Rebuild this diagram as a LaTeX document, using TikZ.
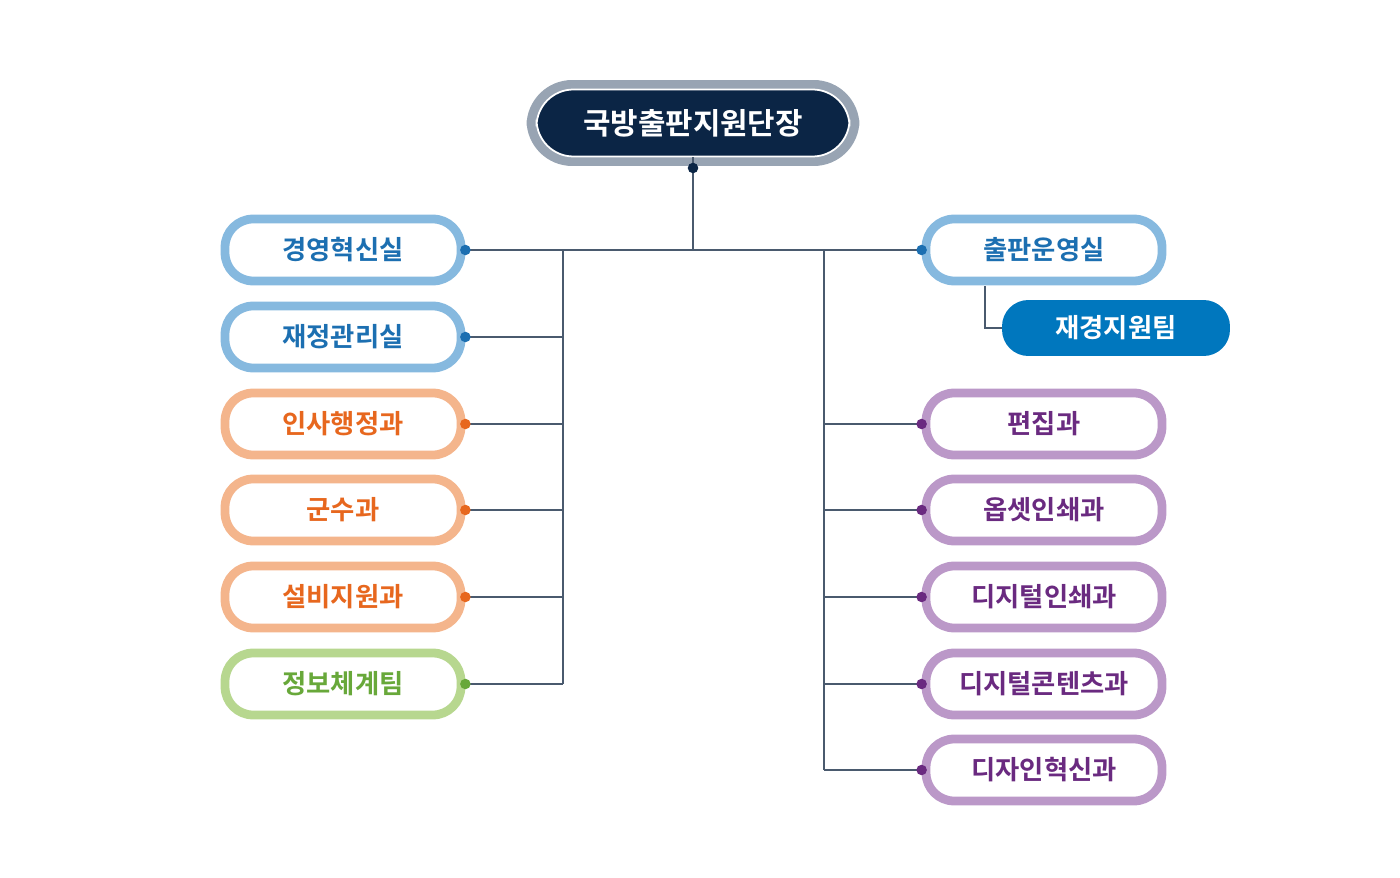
\documentclass[tikz,border=0pt]{standalone}
\usepackage{fontspec}
\newfontfamily\kr{Noto Sans CJK KR}[BoldFont={Noto Sans CJK KR Bold}]
\usetikzlibrary{positioning}
\definecolor{navy}{HTML}{0B2545}
\definecolor{hgray}{HTML}{98A4B3}
\definecolor{bline}{HTML}{86B9DF}\definecolor{btext}{HTML}{1C6FB1}
\definecolor{oline}{HTML}{F4B58C}\definecolor{otext}{HTML}{E7671E}
\definecolor{gline}{HTML}{B7D78F}\definecolor{gtext}{HTML}{68A83A}
\definecolor{pline}{HTML}{BB98C8}\definecolor{ptext}{HTML}{6A2A80}
\definecolor{tfill}{HTML}{0077BE}
\definecolor{lnk}{HTML}{4A5A6E}
\tikzset{
  unit/.style={draw=#1line,text=#1text,line width=5pt,fill=white,rounded corners=16pt,
               minimum width=4.72cm,minimum height=1.24cm,font=\kr\bfseries\fontsize{15}{15}\selectfont},
  team/.style={fill=tfill,text=white,rounded corners=15pt,minimum width=4.56cm,minimum height=1.12cm,
               font=\kr\bfseries\fontsize{15}{15}\selectfont},
  dot/.style={circle,fill=#1,inner sep=0pt,minimum size=6pt},
  link/.style={draw=lnk,line width=0.6pt}
}
\begin{document}
\begin{tikzpicture}[x=0.02cm,y=-0.02cm]
\useasboundingbox (0,0) rectangle (1400,878);
% head
\node[fill=hgray,rounded corners=26pt,minimum width=6.66cm,minimum height=1.72cm] (headbg) at (693,123) {};
\node[fill=navy,draw=white,line width=1pt,rounded corners=21pt,minimum width=6.26cm,minimum height=1.34cm,
      text=white,font=\kr\bfseries\fontsize{17}{17}\selectfont] (head) at (693,123) {국방출판지원단장};
\coordinate (hub) at (693,250);
\coordinate (lt) at (563,250);
\coordinate (rt) at (824,250);
% left side
\foreach \name/\y/\c/\t in {l1/250/b/경영혁신실,l2/337/b/재정관리실,l3/424/o/인사행정과,
                            l4/510/o/군수과,l5/597/o/설비지원과,l6/684/g/정보체계팀}{
  \node[unit=\c] (\name) at (343,\y) {\t};
  \coordinate (\name t) at (563,\y);
  \draw[link] (\name.east) -- (\name t);
  \node[dot=\c text] at (\name.east) {};
}
% right side
\foreach \name/\y/\c/\t in {r1/250/b/출판운영실,r2/424/p/편집과,r3/510/p/옵셋인쇄과,
                            r4/597/p/디지털인쇄과,r5/684/p/디지털콘텐츠과,r6/770/p/디자인혁신과}{
  \node[unit=\c] (\name) at (1044,\y) {\t};
  \coordinate (\name t) at (824,\y);
  \draw[link] (\name t) -- (\name.west);
  \node[dot=\c text] at (\name.west) {};
}
\node[team] (fin) at (1116,328) {재경지원팀};
\coordinate (fk) at (985,286);
% links
\draw[link] (head.south) -- (hub);
\draw[link] (lt) -- (rt);
\draw[link] (lt) -- (l6t);
\draw[link] (rt) -- (r6t);
\draw[link] (fk) |- (fin.west);
\node[dot=navy] at (693,168) {};
\end{tikzpicture}
\end{document}
